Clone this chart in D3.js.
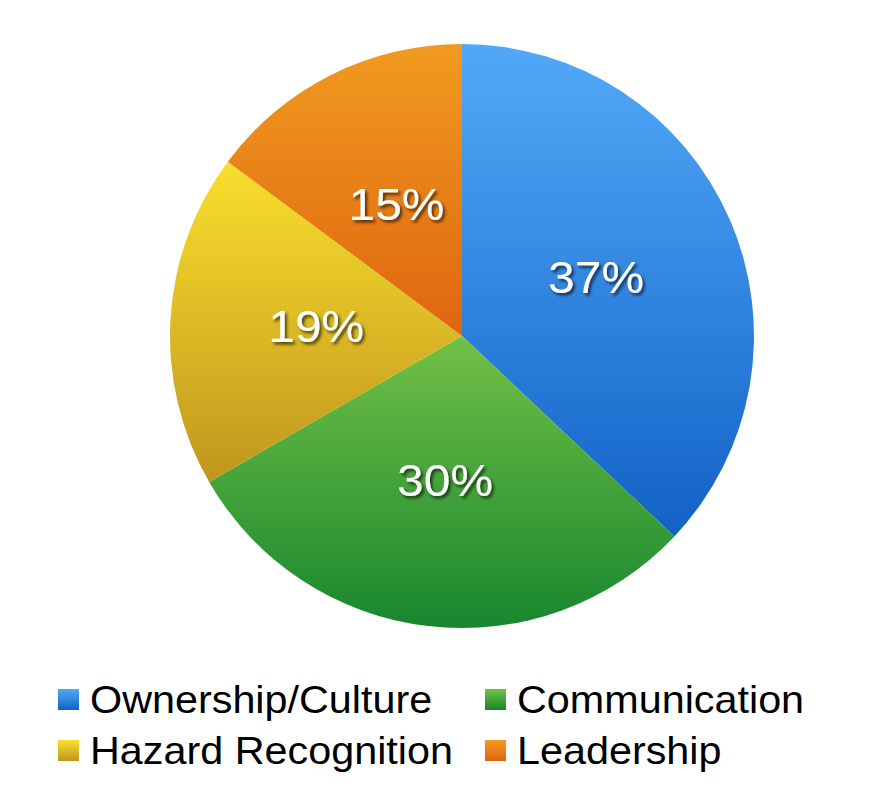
<!DOCTYPE html>
<html><head><meta charset="utf-8">
<script src="https://cdn.jsdelivr.net/npm/d3@7"></script>
<style>html,body{margin:0;padding:0;background:#fff;}</style>
</head><body>
<svg id="chart" width="882" height="807"></svg>
<script>
const categories = ["Ownership/Culture", "Communication", "Hazard Recognition", "Leadership"];
const values = [10, 8, 5, 4];
const colorTop = ["#52a9f8", "#72c046", "#f9df2d", "#f19a20"];
const colorBottom = ["#1262c6", "#17872e", "#c0961e", "#de660f"];

const svg = d3.select("#chart");
const defs = svg.append("defs");
categories.forEach((c, i) => {
  const g = defs.append("linearGradient").attr("id", "g" + i)
    .attr("x1", 0).attr("y1", 0).attr("x2", 0).attr("y2", 1);
  g.append("stop").attr("offset", "0%").attr("stop-color", colorTop[i]);
  g.append("stop").attr("offset", "100%").attr("stop-color", colorBottom[i]);
});
const f = defs.append("filter").attr("id", "shadow").attr("x", "-20%").attr("y", "-20%").attr("width", "140%").attr("height", "140%");
f.append("feDropShadow").attr("dx", 2).attr("dy", 2.5).attr("stdDeviation", 1.5)
  .attr("flood-color", "#000").attr("flood-opacity", 0.65);

const cx = 462, cy = 336, R = 292;
const total = d3.sum(values);
const pie = d3.pie().sort(null).value(d => d)(values);
const arc = d3.arc().innerRadius(0).outerRadius(R);
const labelArc = d3.arc().innerRadius(R * 0.5).outerRadius(R * 0.5);

const g = svg.append("g").attr("transform", `translate(${cx},${cy})`);
g.selectAll("path").data(pie).join("path")
  .attr("d", arc)
  .attr("fill", (d, i) => `url(#g${i})`);

const fmt = d3.format(".0%");
g.selectAll("text").data(pie).join("text")
  .attr("transform", d => `translate(${labelArc.centroid(d)}) scale(1.09,1)`)
  .attr("text-anchor", "middle")
  .attr("dy", "0.34em")
  .attr("fill", "#fff")
  .attr("font-family", "Liberation Sans, Arial, sans-serif")
  .attr("font-size", 44)
  .attr("filter", "url(#shadow)")
  .text(d => fmt(d.value / total));

// legend
const legX = [58, 485], legY = [689, 740];
const leg = svg.append("g");
categories.forEach((c, i) => {
  const col = i % 2, row = Math.floor(i / 2);
  leg.append("rect").attr("x", legX[col]).attr("y", legY[row]).attr("width", 21).attr("height", 21)
    .attr("fill", `url(#g${i})`);
  leg.append("text")
    .attr("transform", `translate(${legX[col] + 32},${legY[row] + 24}) scale(1.06,1)`)
    .attr("font-family", "Liberation Sans, Arial, sans-serif")
    .attr("font-size", 39).attr("fill", "#000")
    .text(c);
});
</script>
</body></html>
